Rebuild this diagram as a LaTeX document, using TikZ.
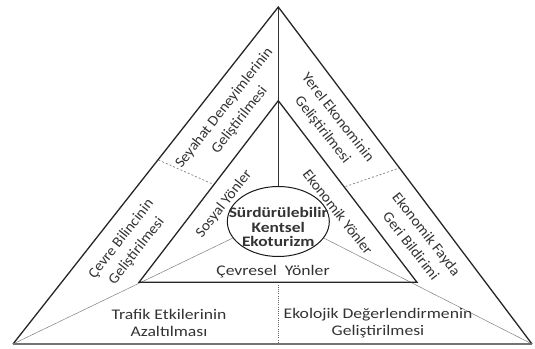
\documentclass[tikz,border=0pt]{standalone}
\usepackage{fontspec}
\setmainfont{Carlito}[FakeStretch=1.2]
\newfontfamily\tilted{Carlito}[FakeStretch=1.05]
\usepackage{tikz}
\usetikzlibrary{shapes.geometric}

\begin{document}
\begin{tikzpicture}[x=1pt,y=-1pt,font=\fontsize{14.7}{17.7}\selectfont]
  \tikzstyle{side}=[draw=black!85,line width=1.3pt,line join=miter]
  \tikzstyle{base}=[draw=black!55,line width=1.8pt]
  \tikzstyle{spoke}=[draw=black!50,line width=0.5pt]
  \tikzstyle{axis}=[draw=black!80,line width=0.6pt]
  \tikzstyle{split}=[draw=black!50,line width=0.7pt,dash pattern=on 2pt off 2pt]
  \tikzstyle{cut}=[draw=black!60,line width=0.7pt,dash pattern=on 1pt off 1.2pt]
  \tikzstyle{label}=[align=center,text=black!80,inner sep=0pt]
  \tikzstyle{tilt}=[label,font=\tilted\fontsize{14.7}{19.5}\selectfont]

  \useasboundingbox (0,0) rectangle (535,348);

  % outer and inner corners
  \coordinate (A) at (13,344);
  \coordinate (B) at (532,344);
  \coordinate (C) at (278.3,7);
  \coordinate (a) at (139,282.3);
  \coordinate (b) at (417,282.3);
  \coordinate (c) at (278.3,100.7);

  % ends of the dashed splits
  \coordinate (sl1) at (158.5,160);
  \coordinate (sl2) at (212.5,184);
  \coordinate (sr1) at (345.5,186.5);
  \coordinate (sr2) at (399.5,168);
  \coordinate (sb1) at (278.3,282.3);
  \coordinate (sb2) at (278.3,344);

  \node[ellipse,draw=black!90,line width=1pt,minimum width=102pt,minimum height=70pt,inner sep=0pt] (E) at (278.3,221.5) {};

  \path (A) edge[spoke] (E.200)
        (B) edge[spoke] (E.340)
        (C) edge[axis] (E.north)
        (sl1) edge[split] (sl2)
        (sr1) edge[split] (sr2)
        (sb1) edge[cut] (sb2);

  \draw[side] (A) -- (C) -- (B);
  \draw[base] (A) -- (B);
  \draw[side] (a) -- (c) -- (b) -- cycle;

  \node[label,font=\bfseries\fontsize{14.5}{14.5}\selectfont] (core) at (278.3,227) {Sürdürülebilir\\Kentsel\\Ekoturizm};

  \node[tilt,rotate=52] (travel) at (232,114) {Seyahat Deneyimlerinin\\Geliştirilmesi};
  \node[tilt,rotate=52] (aware) at (129,245) {Çevre Bilincinin\\Geliştirilmesi};
  \node[tilt,rotate=52] (social) at (224,204) {Sosyal Yönler};
  \node[tilt,rotate=-52] (local) at (330,124) {Yerel Ekonominin\\Geliştirilmesi};
  \node[tilt,rotate=-52] (feedback) at (419,240) {Ekonomik Fayda\\Geri Bildirimi};
  \node[tilt,rotate=-52] (econ) at (338,212) {Ekonomik Yönler};
  \node[label] (env) at (273,272) {Çevresel\ \ Yönler};
  \node[label] (traffic) at (169,323) {Trafik Etkilerinin\\Azaltılması};
  \node[label] (eco) at (378,323) {Ekolojik Değerlendirmenin\\Geliştirilmesi};
\end{tikzpicture}
\end{document}
